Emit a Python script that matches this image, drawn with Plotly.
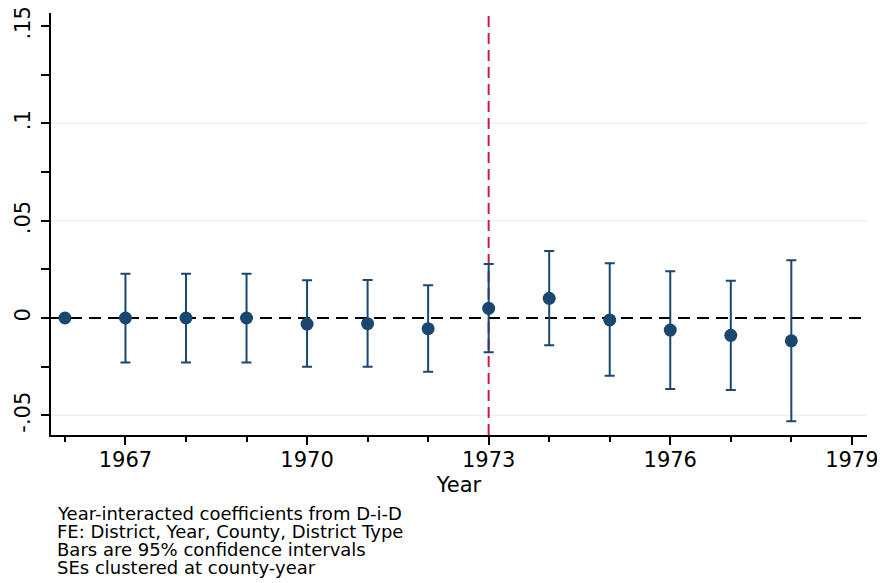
import plotly.graph_objects as go

years = [1966, 1967, 1968, 1969, 1970, 1971, 1972, 1973, 1974, 1975, 1976, 1977, 1978]
coef = [0.0, 0.0, 0.0, 0.0, -0.0031, -0.0029, -0.0055, 0.0050, 0.0101, -0.0010, -0.0062, -0.0089, -0.0117]
ci_hi = [0.0, 0.0228, 0.0228, 0.0228, 0.0194, 0.0195, 0.0168, 0.0277, 0.0344, 0.0281, 0.0240, 0.0192, 0.0297]
ci_lo = [0.0, -0.0228, -0.0228, -0.0228, -0.0250, -0.0250, -0.0276, -0.0176, -0.0140, -0.0296, -0.0365, -0.0370, -0.0531]

ytick_vals = [-0.05, 0, 0.05, 0.1, 0.15]
ytick_text = ["-.05", "0", ".05", ".1", ".15"]
xtick_vals = [1967, 1970, 1973, 1976, 1979]
grid_vals = [-0.05, 0.05, 0.1]
event_year = 1973
notes = ["Year-interacted coefficients from D-i-D",
         "FE: District, Year, County, District Type",
         "Bars are 95% confidence intervals",
         "SEs clustered at county-year"]

navy = "#1a476f"
font = "DejaVu Sans"

# page body has an 8px margin; compensate so the plot lands where the reference's is
OFF = 8
W, H = 885, 583
ML, MR, MT, MB = 51 - OFF, 18 + OFF, 13 - OFF, 148 + OFF
plot_h = H - MT - MB

fig = go.Figure()

fig.add_trace(go.Scatter(
    x=years, y=coef, mode="markers",
    marker=dict(color=navy, size=13),
    error_y=dict(type="data", symmetric=False,
                 array=[h - c for h, c in zip(ci_hi, coef)],
                 arrayminus=[c - l for c, l in zip(coef, ci_lo)],
                 color=navy, thickness=2, width=5),
    showlegend=False, cliponaxis=False,
))

shapes = []
for g in grid_vals:
    shapes.append(dict(type="line", xref="paper", x0=0, x1=1, yref="y", y0=g, y1=g,
                       line=dict(color="#eaf2f3", width=1.5), layer="below"))
shapes.append(dict(type="line", xref="paper", x0=0, x1=1, yref="y", y0=0, y1=0,
                   line=dict(color="black", width=2, dash="12px,7px"), layer="below"))
shapes.append(dict(type="line", xref="x", x0=event_year, x1=event_year, yref="paper", y0=0, y1=1,
                   line=dict(color="#cc1a4e", width=2, dash="11px,6px"), layer="below"))

annotations = []
for i, line in enumerate(notes):
    ypix = 513 + 18 * i - OFF
    annotations.append(dict(text=line, xref="paper", yref="paper",
                            x=(55 - OFF - ML) / (W - ML - MR), y=(H - MB - ypix) / plot_h,
                            xanchor="left", yanchor="middle", align="left",
                            showarrow=False, font=dict(size=18, family=font, color="black")))

fig.update_layout(
    width=W, height=H,
    margin=dict(l=ML, r=MR, t=MT, b=MB, autoexpand=False),
    paper_bgcolor="white", plot_bgcolor="white",
    font=dict(family=font, color="black"),
    shapes=shapes,
    annotations=annotations,
    xaxis=dict(range=[1965.77, 1979.25], tickvals=xtick_vals, showgrid=False, zeroline=False,
               automargin=False, ticklabeloverflow="allow",
               showline=True, linecolor="black", linewidth=1.5,
               ticks="outside", ticklen=8, tickcolor="black", tickwidth=1.5,
               ticklabelstandoff=-3,
               minor=dict(dtick=1, tick0=1966, ticks="outside", ticklen=5, tickcolor="black", tickwidth=1.5),
               tickfont=dict(size=21), title=dict(text="Year", font=dict(size=21), standoff=6)),
    yaxis=dict(range=[-0.0601, 0.1567], tickvals=ytick_vals, ticktext=ytick_text, tickangle=-90,
               showgrid=False, zeroline=False, automargin=False, ticklabeloverflow="allow",
               showline=True, linecolor="black", linewidth=1.5,
               ticks="outside", ticklen=8, tickcolor="black", tickwidth=1.5,
               ticklabelstandoff=3,
               minor=dict(tickvals=[-0.025, 0.025, 0.075, 0.125], ticks="outside", ticklen=8, tickcolor="black", tickwidth=1.5),
               tickfont=dict(size=21)),
)

fig.write_html("out.html")
